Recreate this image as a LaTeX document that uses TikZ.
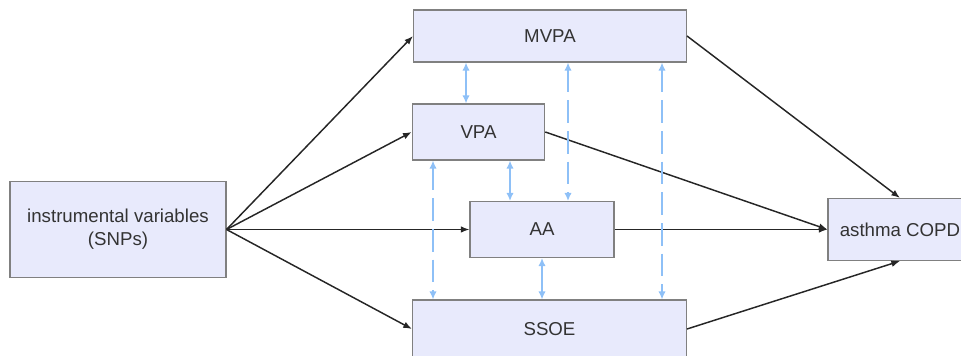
\documentclass[tikz,border=0pt]{standalone}
\usepackage{fontspec}
\setmainfont{Liberation Sans}
\usetikzlibrary{calc,arrows.meta,positioning}
\definecolor{BoxFill}{RGB}{232,234,252}
\definecolor{BoxLine}{RGB}{128,128,128}
\definecolor{LinkBlue}{RGB}{142,192,247}

\begin{document}
\begin{tikzpicture}[
    x=0.75pt, y=-0.75pt,
    font=\fontsize{14}{17}\selectfont,
    factor/.style={draw=BoxLine, line width=0.8pt, fill=BoxFill,
        align=center, inner sep=0pt, text=black!80},
    effect/.style={-{Latex[length=6.5pt,width=5pt]}, line width=1.1pt, black!85},
    corr/.style={{Latex[length=6pt,width=5.5pt]}-{Latex[length=6pt,width=5.5pt]},
        line width=1.3pt, LinkBlue},
    corrdash/.style={corr, dash pattern=on 17pt off 6pt},
]
\useasboundingbox (0,0) rectangle (961,356);

\node[factor, minimum width=162pt, minimum height=72pt] (ivs) at (118,229.5)
    {instrumental variables\\(SNPs)};
\node[factor, minimum width=204.75pt, minimum height=39pt] (mvpa) at (550,36) {MVPA};
\node[factor, minimum width=99.4pt, minimum height=42pt] (vpa) at (478.5,132) {VPA};
\node[factor, minimum width=108pt, minimum height=42pt] (aa) at (542,229.5) {AA};
\node[factor, minimum width=205.5pt, minimum height=43.5pt] (ssoe) at (549.5,329) {SSOE};
\node[factor, minimum width=108pt, minimum height=46.5pt] (copd) at (900,229.5) {asthma COPD};

% exposure paths
\draw[effect] (ivs.east) -- (mvpa.west);
\draw[effect] (ivs.east) -- (vpa.west);
\draw[effect] (ivs.east) -- (aa.west);
\draw[effect] (ivs.east) -- (ssoe.west);

% outcome paths
\draw[effect] (mvpa.east) -- (copd.north);
\draw[effect] (vpa.east) -- (copd.west);
\draw[effect] (aa.east) -- (copd.west);
\draw[effect] (ssoe.east) -- (copd.south);

% correlations between exposures
\draw[corr] ($(vpa.north |- mvpa.south)+(-12.5,0)$) -- ($(vpa.north)+(-12.5,0)$);
\draw[corrdash] ($(aa.north |- mvpa.south)+(26,0)$) -- ($(aa.north)+(26,0)$);
\draw[corrdash] ($(ssoe.north |- mvpa.south)+(112.5,0)$) -- ($(ssoe.north)+(112.5,0)$);
\draw[corr] ($(aa.north |- vpa.south)+(-32,0)$) -- ($(aa.north)+(-32,0)$);
\draw[corrdash] ($(vpa.south)+(-45.5,0)$) -- ($(vpa.south |- ssoe.north)+(-45.5,0)$);
\draw[corr] (aa.south) -- (aa.south |- ssoe.north);

\end{tikzpicture}
\end{document}
